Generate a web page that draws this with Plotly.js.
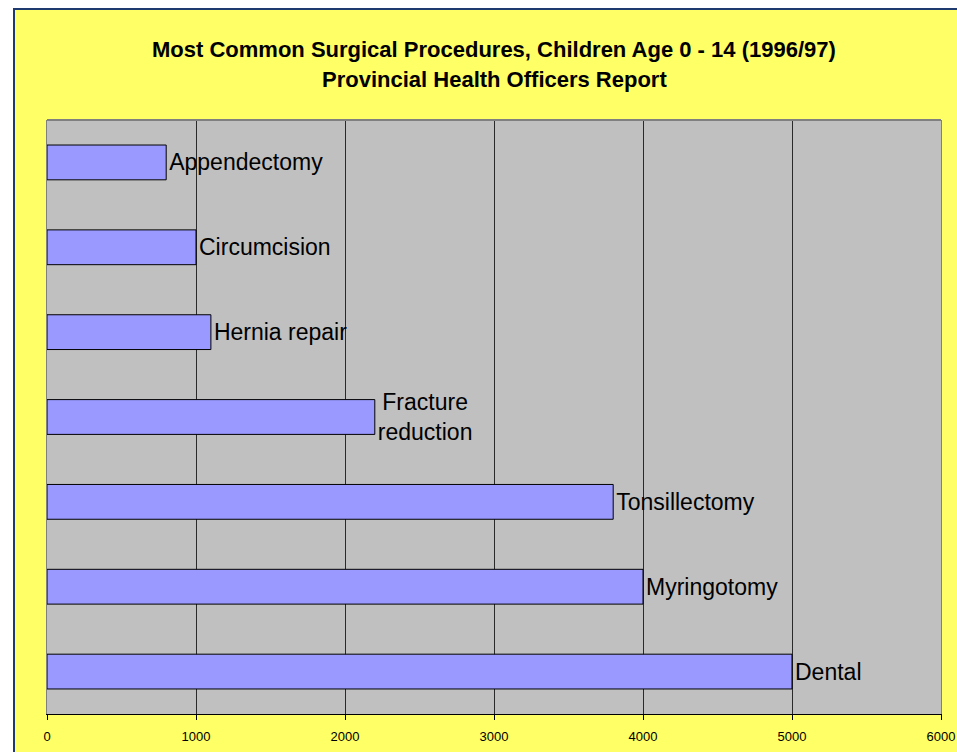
<!DOCTYPE html>
<html>
<head>
<meta charset="utf-8">
<script src="https://cdn.plot.ly/plotly-3.0.1.min.js"></script>
<style>
  html, body { margin: 0; padding: 0; background: #ffffff; overflow: hidden; width: 957px; height: 752px; }
  #frame { position: absolute; left: 13px; top: 8px; width: 960px; height: 760px;
           border-left: 2px solid #1f3a6e; border-top: 2px solid #1f3a6e; background: #FFFF66; }
  #chart { position: absolute; left: 0; top: 0; width: 942px; height: 742px; }
</style>
</head>
<body>
<div id="frame"><div id="chart"></div></div>
<script>
const procedures = ["Appendectomy", "Circumcision", "Hernia repair", "Fracture<br>reduction", "Tonsillectomy", "Myringotomy", "Dental"];
const counts = [800, 1000, 1100, 2200, 3800, 4000, 5000];
const tickValues = [0, 1000, 2000, 3000, 4000, 5000, 6000];
const titleLine1 = "Most Common Surgical Procedures, Children Age 0 - 14 (1996/97)";
const titleLine2 = "Provincial Health Officers Report";

const trace = {
  type: "bar",
  orientation: "h",
  x: counts,
  y: procedures,
  text: procedures,
  textposition: "outside",
  constraintext: "none",
  cliponaxis: false,
  textfont: { family: "Liberation Sans, Arial, sans-serif", size: 23, color: "#000000" },
  marker: { color: "#9999FF", line: { color: "#000000", width: 1 } },
  hoverinfo: "none"
};

const layout = {
  width: 942,
  height: 742,
  margin: { l: 32, r: 16, t: 110, b: 38 },
  paper_bgcolor: "#FFFF66",
  plot_bgcolor: "#C0C0C0",
  showlegend: false,
  bargap: 0.59,
  font: { family: "Liberation Sans, Arial, sans-serif", color: "#000000" },
  xaxis: {
    range: [0, 6000],
    tickvals: tickValues,
    ticktext: tickValues.map(String),
    tickfont: { size: 13, color: "#000000" },
    ticks: "outside",
    ticklen: 5,
    tickcolor: "#000000",
    ticklabelstandoff: 5,
    showline: true,
    linecolor: "#000000",
    linewidth: 1,
    showgrid: true,
    gridcolor: "#2a2a2a",
    gridwidth: 1,
    zeroline: false,
    fixedrange: true
  },
  yaxis: {
    autorange: "reversed",
    showticklabels: false,
    ticks: "",
    showgrid: false,
    showline: true,
    mirror: true,
    linecolor: "#808080",
    linewidth: 1,
    zeroline: false,
    fixedrange: true
  },
  shapes: [
    { type: "line", xref: "paper", yref: "paper", x0: 0, x1: 1, y0: 1, y1: 1,
      line: { color: "#808080", width: 2 }, layer: "above" }
  ],
  annotations: [
    { text: "<b>" + titleLine1 + "</b>", xref: "paper", yref: "paper", x: 0.5, y: 1, yshift: 71,
      xanchor: "center", yanchor: "middle", showarrow: false,
      font: { size: 22, color: "#000000", family: "Liberation Sans, Arial, sans-serif" } },
    { text: "<b>" + titleLine2 + "</b>", xref: "paper", yref: "paper", x: 0.5, y: 1, yshift: 41,
      xanchor: "center", yanchor: "middle", showarrow: false,
      font: { size: 22, color: "#000000", family: "Liberation Sans, Arial, sans-serif" } }
  ]
};

Plotly.newPlot("chart", [trace], layout, { displayModeBar: false, staticPlot: true });
</script>
</body>
</html>
